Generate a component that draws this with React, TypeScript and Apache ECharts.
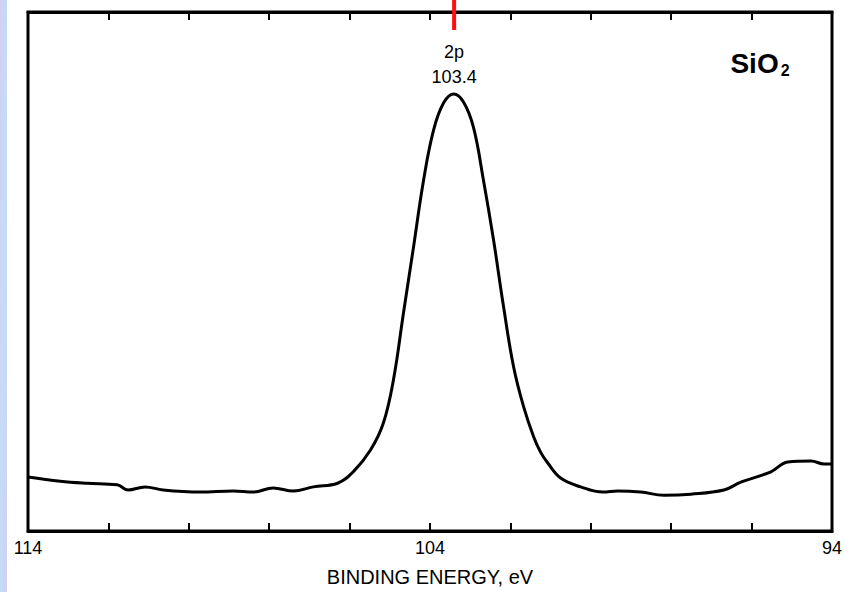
import React, { useEffect, useRef } from "react";
import * as echarts from "echarts";

const energies = [
  114.0, 113.2, 112.53, 111.78, 111.51, 111.09, 110.64, 109.72, 108.89, 108.4, 107.9, 107.4, 106.9, 106.3,
  105.91, 105.48, 105.16, 104.91, 104.66, 104.41, 104.16, 103.91, 103.66, 103.41, 103.17, 102.92, 102.67,
  102.42, 102.17, 101.92, 101.67, 101.42, 101.25, 101.07, 100.75, 100.25, 99.7, 99.33, 98.76, 98.18, 97.51,
  96.69, 96.27, 95.52, 95.1, 94.52, 94.2, 94.0,
];
const intensities = [
  10.4, 9.6, 9.2, 8.9, 7.9, 8.5, 7.9, 7.5, 7.7, 7.5, 8.3, 7.7, 8.5, 9.2,
  11.4, 15.6, 20.8, 29.1, 42.0, 54.7, 67.6, 77.3, 82.5, 84.2, 82.7, 77.8, 67.6,
  56.1, 43.2, 31.6, 23.9, 18.1, 15.2, 13.1, 10.2, 8.5, 7.5, 7.7, 7.5, 6.9, 7.1,
  7.9, 9.4, 11.4, 13.3, 13.5, 12.9, 12.9,
];
const tickLabels = [114, 104, 94];
const peakEnergy = 103.4;
const peakLabel = "2p";
const peakValueLabel = "103.4";
const axisTitle = "BINDING ENERGY, eV";

const FONT = "'Liberation Sans', Arial, Helvetica, sans-serif";

export default function App() {
  const ref = useRef<HTMLDivElement>(null);
  useEffect(() => {
    if (!ref.current) return;
    const chart = echarts.init(ref.current, null, { renderer: "svg" });
    const data = energies.map((e, i) => [e, intensities[i]]);
    const xCommon = {
      type: "value" as const,
      min: 94,
      max: 114,
      interval: 2,
      inverse: true,
      splitLine: { show: false },
      axisLine: { show: true, lineStyle: { color: "#000", width: 3 } },
      axisTick: { show: true, inside: true, length: 8, lineStyle: { color: "#000", width: 2 } },
    };
    chart.setOption({
      animation: false,
      backgroundColor: "#fff",
      grid: {
        left: 28,
        right: 18,
        top: 12,
        bottom: 61,
        show: true,
        borderColor: "#000",
        borderWidth: 3,
        backgroundColor: "transparent",
      },
      xAxis: [
        {
          ...xCommon,
          position: "bottom",
          name: axisTitle,
          nameLocation: "middle",
          nameGap: 36,
          nameTextStyle: { color: "#000", fontSize: 20, fontFamily: FONT },
          axisLabel: {
            show: true,
            margin: 8,
            color: "#000",
            fontSize: 18,
            fontFamily: FONT,
            showMinLabel: true,
            showMaxLabel: true,
            formatter: (v: number) => (tickLabels.includes(v) ? String(v) : ""),
          },
        },
        {
          ...xCommon,
          position: "top",
          axisLabel: { show: false },
        },
      ],
      yAxis: {
        type: "value",
        min: 0,
        max: 100,
        show: false,
        splitLine: { show: false },
      },
      series: [
        {
          type: "line",
          data,
          smooth: 0.4,
          showSymbol: false,
          symbol: "none",
          lineStyle: { color: "#000", width: 3 },
          xAxisIndex: 0,
        },
      ],
    });

    const px = chart.convertToPixel({ xAxisIndex: 0 }, peakEnergy) as number;
    chart.setOption({
      graphic: [
        {
          type: "rect",
          shape: { x: 0, y: 0, width: 7, height: 592 },
          style: {
            fill: new echarts.graphic.LinearGradient(0, 0, 1, 1, [
              { offset: 0, color: "#d2d0f4" },
              { offset: 0.5, color: "#c4dcf6" },
              { offset: 1, color: "#d0cff2" },
            ]),
          },
          z: 100,
        },
        {
          type: "line",
          shape: { x1: px, y1: 0, x2: px, y2: 30 },
          style: { stroke: "#ff1010", lineWidth: 4 },
          z: 100,
        },
        {
          type: "text",
          x: px,
          y: 52,
          style: {
            text: peakLabel,
            fill: "#000",
            font: `18px ${FONT}`,
            align: "center",
            verticalAlign: "middle",
          },
          z: 100,
        },
        {
          type: "text",
          x: px,
          y: 77,
          style: {
            text: peakValueLabel,
            fill: "#000",
            font: `18px ${FONT}`,
            align: "center",
            verticalAlign: "middle",
          },
          z: 100,
        },
        {
          type: "text",
          x: 760,
          y: 63,
          style: {
            text: "{a|SiO}{b|2}",
            align: "center",
            verticalAlign: "middle",
            rich: {
              a: { fontSize: 28, fontWeight: "bold", fontFamily: FONT, fill: "#000", color: "#000", lineHeight: 30 },
              b: {
                fontSize: 16,
                fontWeight: "bold",
                fontFamily: FONT,
                fill: "#000",
                color: "#000",
                padding: [14, 0, 0, 2],
              },
            },
          },
          z: 100,
        },
      ],
    });
    return () => chart.dispose();
  }, []);
  return (
    <div
      ref={ref}
      style={{ position: "fixed", left: 0, top: 0, width: 850, height: 592, background: "#fff" }}
    />
  );
}
